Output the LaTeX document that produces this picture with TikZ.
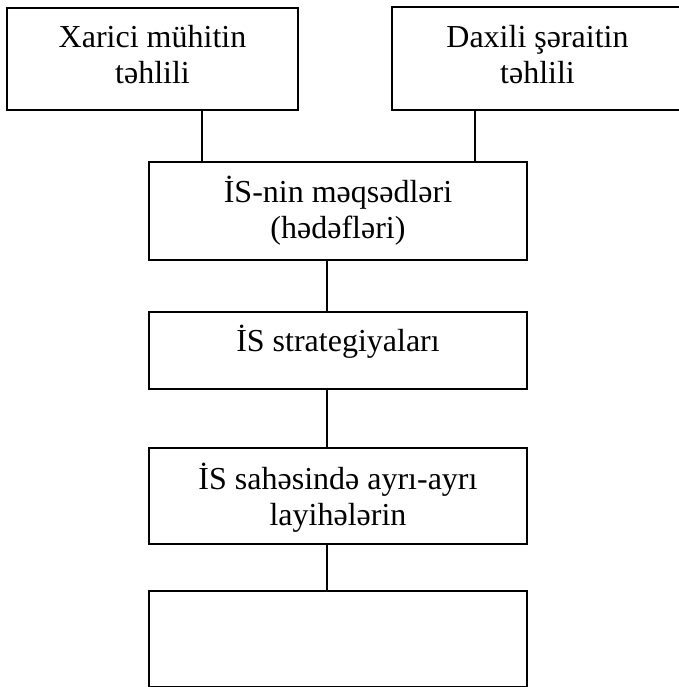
\documentclass[tikz,border=0pt]{standalone}
\usepackage{fontspec}
\setmainfont{Liberation Serif}
\usepackage{tikz}
\usetikzlibrary{positioning}

\begin{document}
\begin{tikzpicture}[x=0.5pt, y=-0.5pt, line width=0.7pt,
    box/.style={draw, rectangle, inner sep=0pt, align=center,
      font=\fontsize{16}{18}\selectfont}]

      \useasboundingbox (0, 0) rectangle (679, 687);
      \clip (0, 0) rectangle (679, 687);

      \node [box, minimum width=145.5pt, minimum height=51pt, text height=25pt, text depth=1pt] (xarici) at (152.5, 59) {Xarici mühitin\\təhlili};
      \node [box, minimum width=145.5pt, minimum height=51.5pt, text height=25.5pt, text depth=1pt] (daxili) at (537.5, 58.5) {Daxili şəraitin\\təhlili};
      \node [box, minimum width=189pt, minimum height=49pt, text height=28pt, text depth=1pt] (meqsed) at (338, 211) {İS-nin məqsədləri\\(hədəfləri)};
      \node [box, minimum width=189pt, minimum height=38.5pt, text height=6pt, text depth=5pt] (strateg) at (338, 350.5) {İS strategiyaları};
      \node [box, minimum width=189pt, minimum height=48pt, text height=30pt, text depth=1pt] (layihe) at (338, 496) {İS sahəsində ayrı-ayrı\\layihələrin};
      \node [box, minimum width=189pt, minimum height=48pt] (bos) at (338, 639) {};

      \coordinate (sol) at (202, 0);
      \coordinate (sag) at (475, 0);
      \coordinate (orta) at (327, 0);

      \draw (sol |- xarici.south) -- (sol |- meqsed.north);
      \draw (sag |- daxili.south) -- (sag |- meqsed.north);
      \draw (orta |- meqsed.south) -- (orta |- strateg.north);
      \draw (orta |- strateg.south) -- (orta |- layihe.north);
      \draw (orta |- layihe.south) -- (orta |- bos.north);

\end{tikzpicture}
\end{document}
